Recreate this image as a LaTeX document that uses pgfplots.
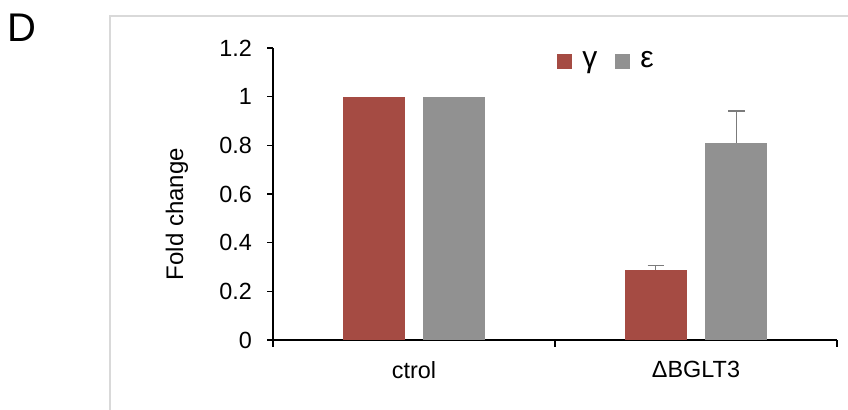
\documentclass[border=0pt]{standalone}
\usepackage{pgfplots}
\pgfplotsset{compat=1.18}
\usepackage{fontspec}
\setmainfont{Liberation Sans}
\definecolor{barred}{HTML}{A54B43}
\definecolor{bargray}{HTML}{919191}
\begin{document}
\begin{tikzpicture}
\useasboundingbox (0,0) rectangle (424pt,205pt);
% panel frame (light gray, open at right and bottom)
\draw[color=black!15, line width=0.6pt] (55pt,0pt) -- (55pt,197pt) -- (424pt,197pt);
\node[font=\fontsize{20}{22}\selectfont, anchor=center] at (11pt,191pt) {D};
\begin{axis}[
  at={(136.5pt,35pt)}, anchor=south west,
  scale only axis, width=282pt, height=146pt,
  xmin=0, xmax=2, ymin=0, ymax=1.2,
  axis x line*=bottom, axis y line*=left,
  axis line style={black, line width=0.7pt},
  ytick={0,0.2,0.4,0.6,0.8,1,1.2},
  xtick={0.5,1.5}, xticklabels={ctrol,ΔBGLT3},
  major x tick style={draw=none},
  minor xtick={0,1,2},
  minor tick length=3.5pt,
  major tick length=3pt,
  tick align=outside,
  tick style={black, line width=0.6pt},
  ticklabel style={font=\fontsize{11.7}{13}\selectfont},
  yticklabel style={/pgf/number format/assume math mode=true, xshift=-4pt},
  xticklabel style={yshift=-4pt},
  legend style={at={(0.5035,0.955)}, anchor=west, draw=none, fill=none, inner sep=0pt,
    legend columns=2, font=\fontsize{15}{16}\selectfont,
    /tikz/every even column/.append style={column sep=7pt}},
  legend image code/.code={\fill[#1] (0pt,-3.75pt) rectangle (7.5pt,3.75pt); \path (10.5pt,0pt);},
]
\addplot[ybar, bar width=31pt, bar shift=0pt, fill=barred, draw=none]
  coordinates {(0.3564,1)};
\addlegendentry{γ}
\addplot[ybar, bar width=31pt, bar shift=0pt, fill=bargray, draw=none]
  coordinates {(0.6436,1)};
\addlegendentry{ε}
\addplot[ybar, bar width=31pt, bar shift=0pt, fill=barred, draw=none, forget plot,
  error bars/.cd, y dir=plus, y explicit,
  error bar style={bargray!85!black, line width=0.9pt},
  error mark options={rotate=90, mark size=4pt, line width=0.9pt, bargray!85!black}]
  coordinates {(1.3564,0.288) +- (0,0.018)};
\addplot[ybar, bar width=31pt, bar shift=0pt, fill=bargray, draw=none, forget plot,
  error bars/.cd, y dir=plus, y explicit,
  error bar style={bargray!85!black, line width=0.9pt},
  error mark options={rotate=90, mark size=4.2pt, line width=0.9pt, bargray!85!black}]
  coordinates {(1.6436,0.81) +- (0,0.13)};
\end{axis}
\node[rotate=90, font=\fontsize{12}{14}\selectfont] at (88.5pt,98pt) {Fold change};
\end{tikzpicture}
\end{document}
